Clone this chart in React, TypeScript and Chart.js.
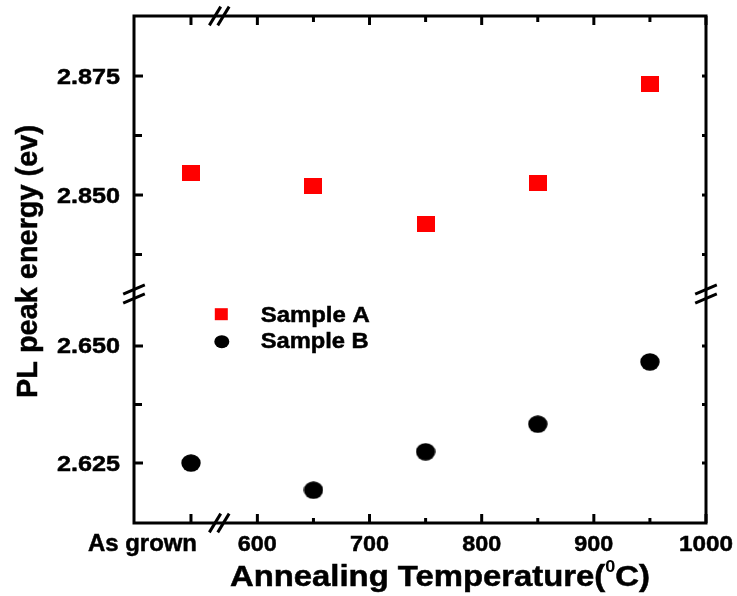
import React, { useEffect, useRef } from "react";
import { Chart, registerables } from "chart.js";

Chart.register(...registerables);

// ---- data ----
const AS_GROWN = 540.8; // axis position used for the "As grown" category
const xPositions = [AS_GROWN, 650, 750, 850, 950];
const sampleA = [2.8547, 2.8519, 2.8439, 2.8525, 2.8734];
const sampleB = [2.625, 2.6192, 2.6274, 2.6333, 2.6466];

const xMajorTicks = [AS_GROWN, 600, 700, 800, 900, 1000];
const xMajorLabels = ["As grown", "600", "700", "800", "900", "1000"];
const xMinorTicks = [650, 750, 850, 950];

const yTopMajor = [2.875, 2.85];
const yTopLabels = ["2.875", "2.850"];
const yTopMinor = [2.8625, 2.8375];
const yBotMajor = [2.65, 2.625];
const yBotLabels = ["2.650", "2.625"];
const yBotMinor = [2.6375];

const X_MIN = 490;
const X_MAX = 1000;
const X_BREAK = 566;
const YTOP_MIN = 2.7811;
const YTOP_MAX = 2.88761;
const YBOT_MIN = 2.61218;
const YBOT_MAX = 2.72051;
const Y_BREAK = 2.6611; // in lower-scale units

const FONT = '"Liberation Sans", Arial, Helvetica, sans-serif';

function fitText(
  ctx: CanvasRenderingContext2D,
  text: string,
  x: number,
  y: number,
  font: string,
  width: number,
  align: "left" | "center" | "right",
  stroke = 0.5
) {
  ctx.save();
  ctx.font = font;
  const w = ctx.measureText(text).width;
  const sx = width / w;
  const left = align === "left" ? x : align === "center" ? x - width / 2 : x - width;
  ctx.translate(left, y);
  ctx.scale(sx, 1);
  ctx.textAlign = "left";
  ctx.textBaseline = "alphabetic";
  ctx.fillText(text, 0, 0);
  if (stroke > 0) {
    ctx.lineWidth = stroke;
    ctx.strokeStyle = ctx.fillStyle as string;
    ctx.strokeText(text, 0, 0);
  }
  ctx.restore();
}

const brokenAxesPlugin = {
  id: "brokenAxes",
  afterDatasetsDraw(chart: any) {
    const ctx: CanvasRenderingContext2D = chart.ctx;
    const { left, right, top, bottom } = chart.chartArea;
    const xs = chart.scales.x;
    const yT = chart.scales.yTop;
    const yB = chart.scales.yBot;
    ctx.save();
    ctx.strokeStyle = "#000";
    ctx.fillStyle = "#000";
    ctx.lineWidth = 3;
    ctx.lineJoin = "miter";

    // frame
    ctx.beginPath();
    ctx.rect(left, top, right - left, bottom - top);
    ctx.stroke();

    const line = (x1: number, y1: number, x2: number, y2: number) => {
      ctx.beginPath();
      ctx.moveTo(x1, y1);
      ctx.lineTo(x2, y2);
      ctx.stroke();
    };

    // x ticks
    xMajorTicks.forEach((v) => {
      const px = xs.getPixelForValue(v);
      line(px, bottom, px, bottom - 9);
      line(px, top, px, top + 9);
    });
    xMinorTicks.forEach((v) => {
      const px = xs.getPixelForValue(v);
      line(px, bottom, px, bottom - 5);
      line(px, top, px, top + 6);
    });

    // y ticks
    const yTick = (py: number, major: boolean) => {
      line(left, py, left + (major ? 9 : 8), py);
      line(right, py, right - 4, py);
    };
    yTopMajor.forEach((v) => yTick(yT.getPixelForValue(v), true));
    yTopMinor.forEach((v) => yTick(yT.getPixelForValue(v), false));
    yBotMajor.forEach((v) => yTick(yB.getPixelForValue(v), true));
    yBotMinor.forEach((v) => yTick(yB.getPixelForValue(v), false));

    // break marks on x axis (top & bottom)
    const bx = xs.getPixelForValue(X_BREAK);
    [bottom, top].forEach((by) => {
      [-4.2, 4.2].forEach((d) => line(bx + d - 5.7, by + 9.4, bx + d + 5.7, by - 9.4));
    });
    // break marks on y axis (left & right)
    const byp = yB.getPixelForValue(Y_BREAK);
    [left, right].forEach((ax) => {
      [-4.5, 4.5].forEach((d) => line(ax - 10.8, byp + d + 4.7, ax + 10.8, byp + d - 4.7));
    });

    // tick labels
    const tickFont = `bold 22px ${FONT}`;
    yTopMajor.forEach((v, i) => {
      fitText(ctx, yTopLabels[i], 120, yT.getPixelForValue(v) + 7.5, tickFont, 63, "right");
    });
    yBotMajor.forEach((v, i) => {
      fitText(ctx, yBotLabels[i], 120, yB.getPixelForValue(v) + 7.5, tickFont, 63, "right");
    });
    xMajorTicks.forEach((v, i) => {
      const px = xs.getPixelForValue(v);
      const lab = xMajorLabels[i];
      if (i === 0) {
        fitText(ctx, lab, px + 6, 551, `bold 24px ${FONT}`, 109, "right");
      } else {
        const w = lab.length === 4 ? 54 : 39;
        fitText(ctx, lab, px, 551, tickFont, w, "center");
      }
    });

    // x title with superscript
    const tFont = `bold 29px ${FONT}`;
    const sFont = `bold 16px ${FONT}`;
    const p1 = "Annealing Temperature(";
    const p2 = "0";
    const p3 = "C)";
    ctx.font = tFont;
    const w1 = ctx.measureText(p1).width;
    const w3 = ctx.measureText(p3).width;
    ctx.font = sFont;
    const w2 = ctx.measureText(p2).width;
    const total = w1 + w2 + w3;
    const target = 420;
    const sx = target / total;
    ctx.save();
    ctx.translate(440 - target / 2, 586);
    ctx.scale(sx, 1);
    ctx.textAlign = "left";
    ctx.textBaseline = "alphabetic";
    ctx.lineWidth = 0.5;
    ctx.font = tFont;
    ctx.fillText(p1, 0, 0);
    ctx.strokeText(p1, 0, 0);
    ctx.font = sFont;
    ctx.fillText(p2, w1, -14);
    ctx.font = tFont;
    ctx.fillText(p3, w1 + w2, 0);
    ctx.strokeText(p3, w1 + w2, 0);
    ctx.restore();

    // y title
    ctx.save();
    ctx.translate(37, 261.5);
    ctx.rotate(-Math.PI / 2);
    fitText(ctx, "PL peak energy (ev)", 0, 0, `bold 30px ${FONT}`, 273, "center");
    ctx.restore();

    // legend
    ctx.fillStyle = "#ff0000";
    ctx.fillRect(221.3 - 6.5, 314.2 - 6, 13, 12);
    ctx.fillStyle = "#000";
    ctx.beginPath();
    ctx.ellipse(221.8, 341.7, 7.5, 6.5, 0, 0, Math.PI * 2);
    ctx.fill();
    const lFont = `bold 22px ${FONT}`;
    fitText(ctx, chart.data.datasets[0].label, 260.7, 322.3, lFont, 109, "left");
    fitText(ctx, chart.data.datasets[1].label, 260.7, 348.3, lFont, 108, "left");

    ctx.restore();
  },
};

function makeRect(w: number, h: number, color: string) {
  const c = document.createElement("canvas");
  c.width = w;
  c.height = h;
  const g = c.getContext("2d")!;
  g.fillStyle = color;
  g.fillRect(0, 0, w, h);
  return c;
}

function makeEllipse(w: number, h: number, color: string) {
  const c = document.createElement("canvas");
  c.width = w;
  c.height = h;
  const g = c.getContext("2d")!;
  g.fillStyle = color;
  g.beginPath();
  g.ellipse(w / 2, h / 2, w / 2 - 0.3, h / 2 - 0.3, 0, 0, Math.PI * 2);
  g.fill();
  return c;
}

export default function App() {
  const ref = useRef<HTMLCanvasElement>(null);
  useEffect(() => {
    const squareImg = makeRect(18, 16, "#ff0000");
    const circleImg = makeEllipse(20, 18, "#000000");
    const chart = new Chart(ref.current!, {
      type: "scatter",
      data: {
        datasets: [
          {
            label: "Sample A",
            data: xPositions.map((x, i) => ({ x, y: sampleA[i] })),
            yAxisID: "yTop",
            pointStyle: squareImg as any,
            pointRadius: 9,
            backgroundColor: "#ff0000",
            borderColor: "#ff0000",
            showLine: false,
          },
          {
            label: "Sample B",
            data: xPositions.map((x, i) => ({ x, y: sampleB[i] })),
            yAxisID: "yBot",
            pointStyle: circleImg as any,
            pointRadius: 9,
            backgroundColor: "#000",
            borderColor: "#000",
            showLine: false,
          },
        ],
      },
      options: {
        animation: false,
        responsive: true,
        maintainAspectRatio: false,
        layout: { padding: { left: 134, top: 16, right: 31, bottom: 73 } },
        plugins: { legend: { display: false }, tooltip: { enabled: false } },
        scales: {
          x: { type: "linear", min: X_MIN, max: X_MAX, display: false },
          yTop: { type: "linear", position: "left", min: YTOP_MIN, max: YTOP_MAX, display: false },
          yBot: { type: "linear", position: "left", min: YBOT_MIN, max: YBOT_MAX, display: false },
        },
      },
      plugins: [brokenAxesPlugin],
    });
    return () => chart.destroy();
  }, []);
  return (
    <div style={{ position: "fixed", left: 0, top: 0, width: 737, height: 596, background: "#fff" }}>
      <canvas ref={ref} />
    </div>
  );
}
